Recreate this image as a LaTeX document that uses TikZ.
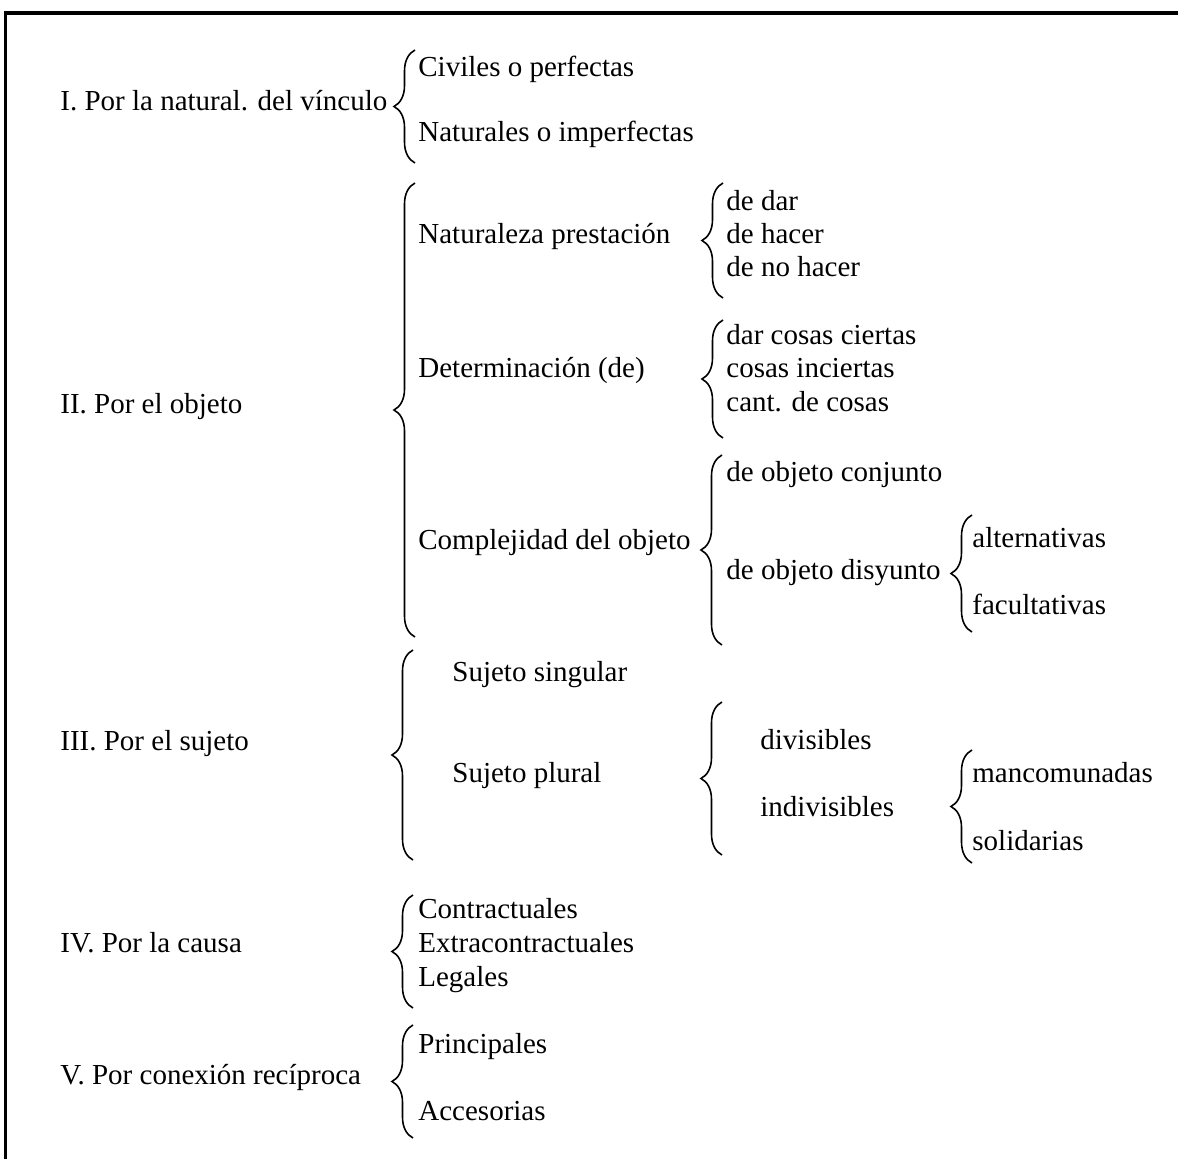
\documentclass[tikz,border=0pt]{standalone}
\usepackage{fontspec}
\setmainfont{Liberation Serif}
\usepackage{tikz}
\usetikzlibrary{decorations.pathreplacing}
\tikzset{llave/.style={line width=0.8pt, decorate, decoration={brace, amplitude=10.5pt}},
  txt/.style={anchor=base west, inner sep=0pt, font=\fontsize{14.5}{17}\selectfont}}
\newcommand{\llave}[3]{\draw[llave] (#1,#3) -- (#1,#2);}

\begin{document}
\begin{tikzpicture}[x=0.5pt, y=-0.5pt]
        \useasboundingbox (0,0) rectangle (1178,1159);
        \fill[white] (-6,-6) rectangle (1184,1165);
        %marco
        \draw[line width=1.8pt] (5.5,1165) -- (5.5,13) -- (1184,13);

        %I
        \node[txt] (vinculo) at (60,111) {I. Por la natural. del vínculo};
        \llave{415}{50}{163}
        \node[txt] (civiles) at (418,77) {Civiles o perfectas};
        \node[txt] (naturales) at (418,142) {Naturales o imperfectas};

        %II
        \node[txt] (objeto) at (60,414) {II. Por el objeto};
        \llave{415}{183}{637}
        \node[txt] (prestacion) at (418,244) {Naturaleza prestación};
        \node[txt] (determinacion) at (418,378) {Determinación (de)};
        \node[txt] (complejidad) at (418,550) {Complejidad del objeto};
        \llave{723}{183}{298}
        \node[txt] (dar) at (726,211) {de dar};
        \node[txt] (hacer) at (726,244) {de hacer};
        \node[txt] (nohacer) at (726,277) {de no hacer};
        \llave{723}{320}{438}
        \node[txt] (ciertas) at (726,345) {dar cosas ciertas};
        \node[txt] (inciertas) at (726,378) {cosas inciertas};
        \node[txt] (cantidad) at (726,412) {cant. de cosas};
        \llave{722}{455}{645}
        \node[txt] (conjunto) at (726,482) {de objeto conjunto};
        \node[txt] (disyunto) at (726,580) {de objeto disyunto};
        \llave{972}{515}{632}
        \node[txt] (alternativas) at (972,548) {alternativas};
        \node[txt] (facultativas) at (972,615) {facultativas};

        %III
        \node[txt] (sujeto) at (60,751) {III. Por el sujeto};
        \llave{413}{650}{860}
        \node[txt] (singular) at (452,682) {Sujeto singular};
        \node[txt] (plural) at (452,783) {Sujeto plural};
        \llave{722}{702}{855}
        \node[txt] (divisibles) at (760,750) {divisibles};
        \node[txt] (indivisibles) at (760,817) {indivisibles};
        \llave{972}{750}{863}
        \node[txt] (mancomunadas) at (972,783) {mancomunadas};
        \node[txt] (solidarias) at (972,850) {solidarias};

        %IV
        \node[txt] (causa) at (60,952) {IV. Por la causa};
        \llave{413}{895}{1008}
        \node[txt] (contractuales) at (418,918) {Contractuales};
        \node[txt] (extra) at (418,952) {Extracontractuales};
        \node[txt] (legales) at (418,986) {Legales};

        %V
        \node[txt] (conexion) at (60,1084) {V. Por conexión recíproca};
        \llave{413}{1025}{1138}
        \node[txt] (principales) at (418,1053) {Principales};
        \node[txt] (accesorias) at (418,1120) {Accesorias};
    \end{tikzpicture}
\end{document}
